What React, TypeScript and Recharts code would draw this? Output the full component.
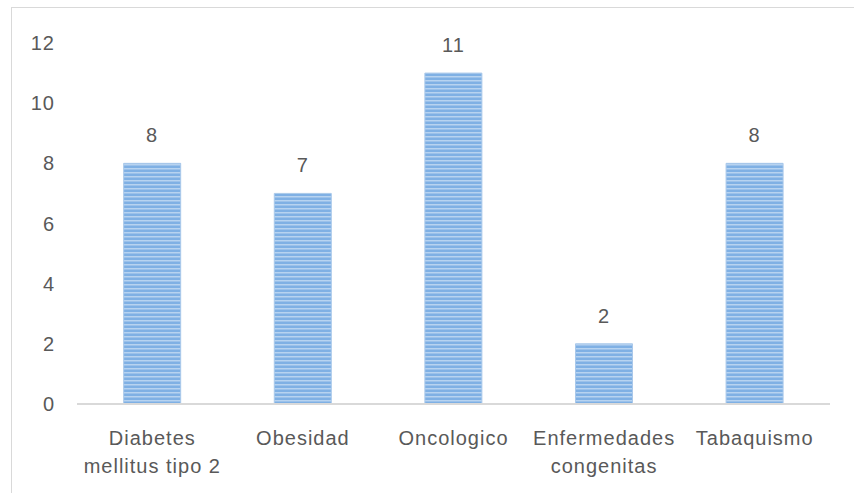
import React from "react";
import { BarChart, Bar, XAxis, YAxis, LabelList } from "recharts";

const categories = ["Diabetes mellitus tipo 2", "Obesidad", "Oncologico", "Enfermedades congenitas", "Tabaquismo"];
const categoryLines = [["Diabetes", "mellitus tipo 2"], ["Obesidad"], ["Oncologico"], ["Enfermedades", "congenitas"], ["Tabaquismo"]];
const values = [8, 7, 11, 2, 8];
const yTicks = [0, 2, 4, 6, 8, 10, 12];

const data = categories.map((name, i) => ({ name, value: values[i] }));

const FONT = "'Liberation Sans', Arial, sans-serif";
const TEXT = "#595959";

function XTick(props: any) {
    const { x, y, index } = props;
    const lines: string[] = categoryLines[index] || [];
    return (
        <text x={x} y={y + 33} textAnchor="middle" fill={TEXT} fontSize={20} letterSpacing={1} fontFamily={FONT}>
            {lines.map((l, i) => (
                <tspan key={i} x={x} dy={i === 0 ? 0 : 28}>{l}</tspan>
            ))}
        </text>
    );
}

function YTick(props: any) {
    const { x, y, payload } = props;
    return (
        <text x={x - 14} y={y + 7} textAnchor="end" fill={TEXT} fontSize={20} letterSpacing={1} fontFamily={FONT}>
            {payload.value}
        </text>
    );
}

export default function App() {
    return (
        <div style={{ position: "absolute", left: 0, top: 0, width: 854, height: 493, overflow: "hidden", background: "#fff" }}>
            <div style={{ position: "absolute", left: 11, top: 7, width: 900, height: 600, border: "1px solid #d9d9d9", boxSizing: "border-box" }} />
            <div style={{ position: "absolute", left: 0, top: 0 }}>
                <BarChart width={854} height={493} data={data} margin={{ top: 43, right: 24, bottom: 0, left: 0 }} barCategoryGap="31%">
                    <defs>
                        <pattern id="stripes" x="0" y="0" width="8" height="4" patternUnits="userSpaceOnUse">
                            <rect x="0" y="0" width="8" height="4" fill="#7fb0e4" />
                            <rect x="0" y="0" width="8" height="1.5" fill="#b7d3f0" />
                        </pattern>
                    </defs>
                    <XAxis
                        dataKey="name"
                        axisLine={{ stroke: "#d9d9d9", strokeWidth: 2 }}
                        tickLine={false}
                        tick={<XTick />}
                        height={89}
                        interval={0}
                    />
                    <YAxis
                        domain={[0, 12]}
                        ticks={yTicks}
                        axisLine={false}
                        tickLine={false}
                        tick={<YTick />}
                        width={77}
                        interval={0}
                    />
                    <Bar dataKey="value" fill="url(#stripes)" stroke="#a9c8ea" strokeWidth={1} isAnimationActive={false}>
                        <LabelList dataKey="value" position="top" offset={21} fill={TEXT} fontSize={20} letterSpacing={1} fontFamily={FONT} />
                    </Bar>
                </BarChart>
            </div>
        </div>
    );
}
